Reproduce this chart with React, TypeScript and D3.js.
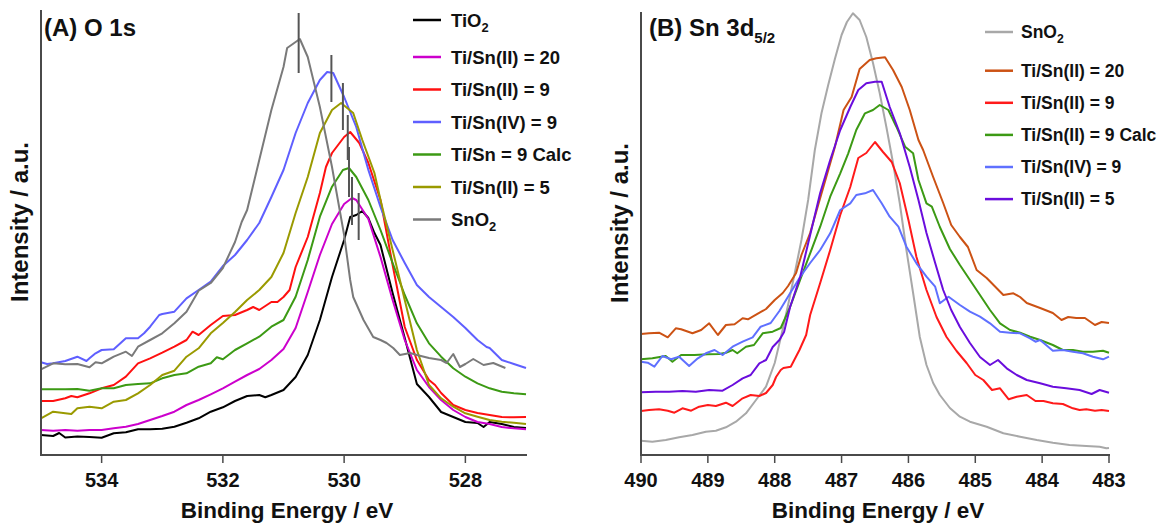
import React from "react";
import * as d3 from "d3";

// ---------- Panel A: O 1s (binding energy eV, intensity a.u.) ----------
const TIO2_A: [number, number][] = [[535.0,20],[534.8,19],[534.7,22],[534.6,17.5],[534.4,18.5],[534.2,18],[534.0,17.3],[533.8,21.7],[533.6,22.7],[533.4,25.7],[533.2,25.7],[533.0,26.3],[532.8,28.3],[532.6,32.3],[532.4,36.7],[532.2,43.3],[532.0,47.7],[531.8,54],[531.6,59],[531.4,60],[531.3,57.7],[531.2,60],[531.0,65],[530.8,78],[530.6,100],[530.4,135],[530.2,178],[530.0,215],[529.9,238],[529.8,240],[529.7,244],[529.6,237],[529.5,222],[529.4,210],[529.2,162],[529.0,117],[528.8,71],[528.6,58],[528.4,43],[528.2,38],[528.0,33],[527.8,32],[527.7,28],[527.6,33],[527.4,31],[527.2,28],[527.0,27]];
const SN20_A: [number, number][] = [[535.0,25],[534.8,24.3],[534.6,25],[534.4,24.3],[534.2,25],[534.0,25],[533.8,26.7],[533.6,28.3],[533.4,31],[533.2,35],[533.0,39],[532.8,43.3],[532.6,50],[532.4,55],[532.2,60.7],[532.0,66.7],[531.8,73.3],[531.6,80],[531.4,86],[531.2,95],[531.0,106],[530.8,127],[530.6,163],[530.4,200],[530.2,231],[530.0,251],[529.87,257],[529.8,255],[529.6,236],[529.4,198],[529.2,155],[529.0,115],[528.8,85],[528.6,68],[528.4,55],[528.2,45],[528.0,38],[527.8,33],[527.6,31],[527.4,28],[527.2,26.7],[527.0,25.7]];
const SN9_A: [number, number][] = [[535.0,54],[534.8,54],[534.6,56.7],[534.5,59],[534.4,57.7],[534.2,61.7],[534.0,66.7],[533.8,70],[533.6,78.3],[533.4,91.7],[533.2,96.7],[533.0,102.3],[532.8,108.3],[532.6,115],[532.5,123.3],[532.4,120],[532.2,130],[532.0,139],[531.8,140],[531.6,145],[531.5,148],[531.4,145],[531.2,153],[531.1,153],[531.0,158],[530.9,165],[530.8,188],[530.6,218],[530.4,262],[530.3,288],[530.2,302],[530.0,318],[529.9,323],[529.75,312],[529.6,292],[529.4,255],[529.2,190],[529.0,128],[528.8,95],[528.6,75],[528.5,70],[528.4,62],[528.2,50],[528.0,45],[527.8,42],[527.6,40],[527.4,38],[527.2,37.7],[527.0,38]];
const SNIV9_A: [number, number][] = [[535.0,92.7],[534.9,91],[534.8,91.7],[534.6,94],[534.4,98.3],[534.25,94],[534.2,96.7],[534.1,101.7],[534.0,105],[533.8,105.7],[533.6,116.7],[533.4,116.7],[533.3,121.7],[533.2,128.3],[533.05,140],[533.0,141],[532.8,143.3],[532.6,156.7],[532.4,165],[532.2,173.3],[532.0,189],[531.8,200],[531.6,215],[531.4,232],[531.2,258],[531.0,285],[530.8,322],[530.6,352],[530.4,375],[530.28,383],[530.18,382],[530.0,358],[529.8,328],[529.6,285],[529.4,248],[529.2,215],[529.0,192],[528.8,170],[528.6,158],[528.4,148],[528.2,138],[528.0,127],[527.8,115],[527.65,108],[527.6,107],[527.4,95],[527.2,91],[527.0,87]];
const CALC_A: [number, number][] = [[535.0,65.7],[534.8,65.7],[534.6,65.7],[534.4,66],[534.2,64.3],[534.0,66.7],[533.8,66.7],[533.6,70],[533.4,71],[533.2,71.7],[533.0,76.7],[532.8,80],[532.6,81.7],[532.4,88.3],[532.2,91.7],[532.1,97.7],[532.0,95.7],[531.8,105],[531.6,111.7],[531.4,118.3],[531.2,128.3],[531.0,135],[530.8,158.3],[530.6,195],[530.4,238.3],[530.2,268.3],[530.02,285],[529.92,287],[529.8,278],[529.6,255],[529.4,225],[529.2,192],[529.0,160],[528.8,131.7],[528.6,111.7],[528.4,98.3],[528.2,86.7],[528.0,78.3],[527.8,71.7],[527.6,66.7],[527.4,63.3],[527.2,61.7],[527.0,60.7]];
const SN5_A: [number, number][] = [[535.0,36.7],[534.8,43.3],[534.6,41.7],[534.5,41],[534.4,46.7],[534.2,48.3],[534.0,46.7],[533.8,53.3],[533.6,55],[533.4,61.7],[533.2,70],[533.0,80],[532.8,84.3],[532.6,98.3],[532.4,106.7],[532.2,121.7],[532.0,132],[531.8,143],[531.6,155],[531.4,165],[531.2,178],[531.0,202],[530.8,242],[530.6,278],[530.4,322],[530.2,345],[530.05,352],[529.85,342],[529.7,315],[529.5,282],[529.4,255],[529.2,205],[529.0,155],[528.8,105],[528.6,70],[528.4,56.7],[528.2,48.3],[528.0,41.7],[527.8,38.3],[527.6,35],[527.4,33.3],[527.2,32.3],[527.0,31]];
const SNO2_A: [number, number][] = [[535.0,85.7],[534.8,91.7],[534.6,90.7],[534.4,91],[534.2,87.7],[534.1,92.7],[534.0,91.7],[533.9,95],[533.8,98.3],[533.6,103.3],[533.5,99],[533.4,108.3],[533.2,115],[533.0,121.7],[532.8,131.7],[532.6,143.3],[532.4,164.3],[532.2,172],[532.0,187],[531.8,213],[531.69,233],[531.6,245],[531.4,295],[531.2,345],[531.0,388],[530.94,407],[530.8,413],[530.73,416],[530.6,398],[530.4,348],[530.2,288],[530.0,220],[529.9,175],[529.85,158],[529.68,135],[529.52,118],[529.4,115],[529.3,112],[529.19,107],[529.08,100],[528.91,102],[528.8,100],[528.6,97],[528.4,95],[528.31,92],[528.2,101],[528.09,88],[528.0,91],[527.87,96],[527.7,90],[527.54,92],[527.34,87]];

const LABELS_A = ["TiO", "Ti/Sn(II) = 20", "Ti/Sn(II) = 9", "Ti/Sn(IV) = 9", "Ti/Sn = 9 Calc", "Ti/Sn(II) = 5", "SnO"];
const SUBS_A = ["2", "", "", "", "", "", "2"];
const COLORS_A = ["#000000", "#cc00cc", "#ff1010", "#5f5fff", "#3c9a14", "#9a9a00", "#7a7a7a"];
const SERIES_A = [TIO2_A, SN20_A, SN9_A, SNIV9_A, CALC_A, SN5_A, SNO2_A];

// peak-position markers (E, low, high) in panel A
const MARK_E = [530.75, 530.21, 530.02, 529.94, 529.92, 529.87, 529.76];
const MARK_LO = [382, 353, 325, 295, 258, 230, 215];
const MARK_HI = [442, 400, 372, 340, 308, 278, 262];

const TICKS_A = [534, 532, 530, 528];

// ---------- Panel B: Sn 3d5/2 ----------
const SNO2_B: [number, number][] = [[490.0,14.3],[489.83,13.3],[489.63,15],[489.43,17.7],[489.23,20],[489.03,23.3],[488.88,24.3],[488.73,27.7],[488.58,33.3],[488.43,41.7],[488.28,55],[488.13,68.3],[488.0,92],[487.9,120],[487.8,150],[487.7,182],[487.6,215],[487.5,255],[487.4,305],[487.3,342],[487.2,370],[487.1,396],[487.0,420],[486.92,433],[486.83,441.7],[486.73,435],[486.63,418],[486.53,392],[486.43,362],[486.33,328],[486.23,292],[486.13,252],[486.03,205],[485.93,162],[485.83,118],[485.73,90],[485.63,72],[485.53,60],[485.38,47],[485.23,38.3],[485.08,33.3],[484.83,28.3],[484.58,21.7],[484.33,18.3],[484.08,15],[483.84,12.3],[483.59,10],[483.34,9],[483.14,8.3],[483.04,6.7],[483.0,7]];
const SN20_B: [number, number][] = [[490.0,121],[489.88,121.7],[489.73,122.3],[489.6,117.7],[489.48,126.7],[489.4,125.7],[489.23,121.7],[489.1,125],[488.98,131.7],[488.85,120],[488.73,130],[488.6,130.7],[488.48,136.7],[488.4,135.7],[488.33,138.3],[488.2,143.3],[488.13,146],[488.0,155],[487.88,162],[487.8,169],[487.68,182],[487.6,200],[487.47,222],[487.35,250],[487.22,280],[487.1,308],[486.97,345],[486.85,358],[486.73,386],[486.58,395],[486.48,396.7],[486.35,397.7],[486.23,385],[486.1,368],[485.98,345],[485.85,315],[485.78,305],[485.63,278],[485.48,252],[485.36,230],[485.23,218],[485.11,208],[484.98,185],[484.83,177],[484.58,160],[484.43,161.7],[484.33,158],[484.23,152],[484.03,147],[483.84,142],[483.71,135],[483.61,138],[483.49,137],[483.36,137],[483.21,130],[483.11,133],[483.0,132]];
const SN9_B: [number, number][] = [[490.0,44],[489.88,45],[489.73,45.7],[489.6,44.3],[489.5,42.3],[489.38,46.7],[489.25,44.3],[489.13,48.3],[489.0,50],[488.88,49],[488.73,52.3],[488.63,49],[488.48,56.7],[488.36,60],[488.23,59],[488.13,62],[488.03,70],[487.98,78],[487.91,85],[487.87,87],[487.76,88.3],[487.63,105],[487.53,120],[487.47,140],[487.32,172],[487.17,205],[487.02,240],[486.87,268],[486.75,297],[486.63,302],[486.5,313],[486.38,303],[486.25,293],[486.13,272],[486.0,235],[485.88,198],[485.73,165],[485.58,138],[485.43,118],[485.28,104],[485.13,92],[485.0,80],[484.88,75],[484.75,65],[484.63,66.7],[484.5,55.7],[484.38,58.3],[484.23,60],[484.1,54],[483.98,54],[483.84,51.7],[483.69,51],[483.54,46.7],[483.44,45],[483.34,45.7],[483.21,44.3],[483.11,45],[483.0,44]];
const CALC_B: [number, number][] = [[490.0,95.7],[489.83,96.7],[489.63,99],[489.53,93.3],[489.4,100],[489.2,100],[489.0,100.7],[488.83,101],[488.73,102.3],[488.63,105],[488.56,101.7],[488.43,108.3],[488.31,110],[488.18,121.7],[488.03,123.3],[487.91,127],[487.77,148],[487.62,175],[487.47,201.7],[487.32,228.3],[487.17,258.3],[487.02,281.7],[486.9,301.7],[486.78,325],[486.65,341.7],[486.53,345],[486.43,350],[486.3,345],[486.18,328.3],[486.05,308.3],[485.93,301.7],[485.85,275],[485.73,251.7],[485.65,248.3],[485.53,228],[485.38,206],[485.23,190],[485.08,175],[484.93,160],[484.78,145],[484.63,131.7],[484.48,125],[484.33,122.3],[484.18,118.3],[484.03,115],[483.84,110],[483.69,105],[483.54,105],[483.39,103.3],[483.24,103.3],[483.09,104.3],[483.0,102.3]];
const SNIV9_B: [number, number][] = [[490.0,93.3],[489.9,92.3],[489.8,88.3],[489.68,99],[489.55,95.7],[489.43,98.3],[489.28,89],[489.15,96.7],[489.03,101.7],[488.9,105],[488.78,100],[488.63,108.3],[488.48,113.3],[488.33,117.7],[488.21,128.3],[488.06,132],[487.93,144],[487.77,161.7],[487.62,178],[487.47,192],[487.32,205],[487.17,221.7],[487.02,245],[486.87,251.7],[486.78,260],[486.65,261.7],[486.53,265],[486.4,251.7],[486.28,238.3],[486.15,228.3],[486.03,208.3],[485.88,191.7],[485.73,178.3],[485.6,168.3],[485.53,151.7],[485.4,158.3],[485.23,150],[485.08,143.3],[484.93,138.3],[484.78,131.7],[484.63,123.3],[484.48,122.3],[484.33,121.7],[484.18,116.7],[484.1,113.3],[484.03,115],[483.84,104.3],[483.69,105],[483.54,103.3],[483.39,101.7],[483.24,98.3],[483.09,95.7],[483.0,98.3]];
const SN5_B: [number, number][] = [[490.0,62.7],[489.78,63.3],[489.58,63.3],[489.38,64],[489.18,63.3],[488.98,65],[488.78,64.3],[488.63,70],[488.48,76.7],[488.36,80],[488.23,91.7],[488.13,95],[488.03,108],[487.93,115],[487.86,123],[487.77,148],[487.62,178],[487.47,220],[487.32,262],[487.17,295],[487.02,325],[486.87,348],[486.75,365],[486.63,371.7],[486.5,373.3],[486.4,373.3],[486.28,348],[486.13,322],[485.98,288],[485.85,255],[485.73,222],[485.6,192],[485.48,165],[485.36,145],[485.23,128],[485.08,112],[484.93,98],[484.78,90],[484.66,95],[484.53,86.7],[484.38,80],[484.23,75],[484.03,71.7],[483.84,68.3],[483.64,66.7],[483.44,65],[483.26,61],[483.14,65],[483.0,62.3]];

const LABELS_B = ["SnO", "Ti/Sn(II) = 20", "Ti/Sn(II) = 9", "Ti/Sn(II) = 9 Calc", "Ti/Sn(IV) = 9", "Ti/Sn(II) = 5"];
const SUBS_B = ["2", "", "", "", "", ""];
const COLORS_B = ["#a8a8a8", "#cc5214", "#ff1a1a", "#3c9a14", "#5f70ff", "#6a0ddd"];
const SERIES_B = [SNO2_B, SN20_B, SN9_B, CALC_B, SNIV9_B, SN5_B];

const TICKS_B = [490, 489, 488, 487, 486, 485, 484, 483];

const FONT = "'Liberation Sans', Arial, Helvetica, sans-serif";

export default function App() {
  const xA = d3.scaleLinear().domain([535, 527]).range([41, 526]);
  const xB = d3.scaleLinear().domain([490, 483]).range([641, 1109]);
  const y = d3.scaleLinear().domain([0, 445]).range([455, 10]);
  const lineA = d3.line<[number, number]>().x((d) => xA(d[0])).y((d) => y(d[1]));
  const lineB = d3.line<[number, number]>().x((d) => xB(d[0])).y((d) => y(d[1]));
  const axisY = y(0);
  const axisCol = "#4a4a4a";

  const legend = (labels: string[], subs: string[], colors: string[], x0: number, ys: number[], fs: number, gap: number) =>
    labels.map((lab, i) => (
      <g key={lab + i}>
        <line x1={x0} x2={x0 + 28} y1={ys[i]} y2={ys[i]} stroke={colors[i]} strokeWidth={2.5} />
        <text x={x0 + gap} y={ys[i] + fs * 0.36} fontSize={fs} fontWeight="bold" fill="#111">
          {lab}
          {subs[i] ? (
            <tspan fontSize={fs * 0.7} dy={5}>
              {subs[i]}
            </tspan>
          ) : null}
        </text>
      </g>
    ));

  const legYA = LABELS_A.map((_, i) => (i === 0 ? 20 : 24.5 + i * 32.5));
  const legYB = LABELS_B.map((_, i) => (i === 0 ? 32 : 38.6 + i * 32.1));

  return (
    <svg
      width={1163}
      height={526}
      style={{ position: "absolute", left: 0, top: 0, background: "#fff" }}
      fontFamily={FONT}
    >
      <rect x={0} y={0} width={1163} height={526} fill="#fff" />
      {/* Panel A */}
      <g>
        {SERIES_A.map((s, i) => (
          <path key={"a" + i} d={lineA(s) || ""} fill="none" stroke={COLORS_A[i]} strokeWidth={2} strokeLinejoin="round" />
        ))}
        {MARK_E.map((e, i) => (
          <line key={"m" + i} x1={xA(e)} x2={xA(e)} y1={y(MARK_LO[i])} y2={y(MARK_HI[i])} stroke="#555" strokeWidth={2} />
        ))}
        <line x1={41} x2={41} y1={10} y2={axisY} stroke={axisCol} strokeWidth={2} />
        <line x1={40} x2={527} y1={axisY} y2={axisY} stroke={axisCol} strokeWidth={2} />
        {TICKS_A.map((t) => (
          <g key={"ta" + t}>
            <line x1={xA(t)} x2={xA(t)} y1={axisY} y2={axisY + 8} stroke={axisCol} strokeWidth={1.5} />
            <text x={xA(t)} y={487} textAnchor="middle" fontSize={20} fontWeight="bold" fill="#111">
              {t}
            </text>
          </g>
        ))}
        <text x={287} y={518} textAnchor="middle" fontSize={22.5} fontWeight="bold" fill="#111">
          Binding Energy / eV
        </text>
        <text transform="translate(28,222) rotate(-90)" textAnchor="middle" fontSize={24} fontWeight="bold" fill="#111">
          Intensity / a.u.
        </text>
        <text x={44} y={36} fontSize={24} fontWeight="bold" fill="#111">
          (A) O 1s
        </text>
        {legend(LABELS_A, SUBS_A, COLORS_A, 413, legYA, 18.5, 38)}
      </g>
      {/* Panel B */}
      <g>
        {SERIES_B.map((s, i) => (
          <path key={"b" + i} d={lineB(s) || ""} fill="none" stroke={COLORS_B[i]} strokeWidth={2} strokeLinejoin="round" />
        ))}
        <line x1={641} x2={641} y1={12} y2={axisY} stroke={axisCol} strokeWidth={2} />
        <line x1={640} x2={1110} y1={axisY} y2={axisY} stroke={axisCol} strokeWidth={2} />
        {TICKS_B.map((t) => (
          <g key={"tb" + t}>
            <line x1={xB(t)} x2={xB(t)} y1={axisY} y2={axisY + 8} stroke={axisCol} strokeWidth={1.5} />
            <text x={xB(t)} y={487} textAnchor="middle" fontSize={20} fontWeight="bold" fill="#111">
              {t}
            </text>
          </g>
        ))}
        <text x={878} y={518} textAnchor="middle" fontSize={22.5} fontWeight="bold" fill="#111">
          Binding Energy / eV
        </text>
        <text transform="translate(628,223) rotate(-90)" textAnchor="middle" fontSize={24} fontWeight="bold" fill="#111">
          Intensity / a.u.
        </text>
        <text x={649} y={36} fontSize={24} fontWeight="bold" fill="#111">
          (B) Sn 3d
          <tspan fontSize={15} dy={7}>
            5/2
          </tspan>
        </text>
        {legend(LABELS_B, SUBS_B, COLORS_B, 985, legYB, 17.5, 36)}
      </g>
    </svg>
  );
}
